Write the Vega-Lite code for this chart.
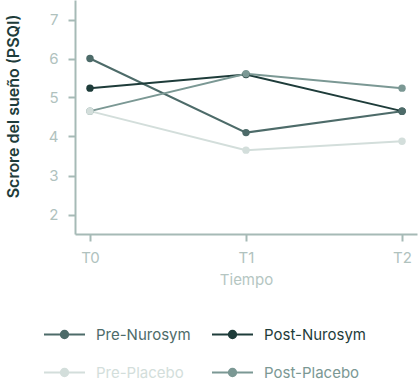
{
  "$schema": "https://vega.github.io/schema/vega-lite/v6.json",
  "width": 342,
  "height": 234,
  "autosize": "none",
  "padding": {"left": 75, "top": 0, "right": 1, "bottom": 151},
  "config": {
    "font": "Inter",
    "view": {"stroke": null},
    "axis": {"grid": false, "domainColor": "#a6bab6", "domainWidth": 2, "tickColor": "#a6bab6", "tickWidth": 2, "tickSize": 7, "labelColor": "#b0c2be", "labelFontSize": 15, "labelFont": "Inter"}
  },
  "data": {
    "values": [
      {"grupo": "Pre-Nurosym", "tiempo": "T0", "score": 6.0},
      {"grupo": "Pre-Nurosym", "tiempo": "T1", "score": 4.1},
      {"grupo": "Pre-Nurosym", "tiempo": "T2", "score": 4.65},
      {"grupo": "Post-Nurosym", "tiempo": "T0", "score": 5.24},
      {"grupo": "Post-Nurosym", "tiempo": "T1", "score": 5.59},
      {"grupo": "Post-Nurosym", "tiempo": "T2", "score": 4.65},
      {"grupo": "Pre-Placebo", "tiempo": "T0", "score": 4.65},
      {"grupo": "Pre-Placebo", "tiempo": "T1", "score": 3.65},
      {"grupo": "Pre-Placebo", "tiempo": "T2", "score": 3.88},
      {"grupo": "Post-Placebo", "tiempo": "T0", "score": 4.65},
      {"grupo": "Post-Placebo", "tiempo": "T1", "score": 5.61},
      {"grupo": "Post-Placebo", "tiempo": "T2", "score": 5.24}
    ]
  },
  "encoding": {
    "x": {"field": "tiempo", "type": "ordinal", "scale": {"type": "point", "padding": 0.096},
      "axis": {"title": "Tiempo", "labelAngle": 0, "labelPadding": 9, "titleColor": "#b5c6c2", "titleFontSize": 15, "titleFontWeight": "normal", "titlePadding": 7}},
    "y": {"field": "score", "type": "quantitative", "scale": {"domain": [1.5, 7.5], "nice": false, "zero": false},
      "axis": {"title": "Scrore del sueño (PSQI)", "values": [2, 3, 4, 5, 6, 7], "labelPadding": 10, "titleColor": "#1e3c3a", "titleFontSize": 16, "titleFontWeight": 600, "titleX": -54, "titleY": 106, "titleAnchor": "middle"}},
    "color": {"field": "grupo", "type": "nominal",
      "scale": {"domain": ["Pre-Nurosym", "Post-Nurosym", "Pre-Placebo", "Post-Placebo"], "range": ["#4d6b69", "#1e3c3a", "#d3dedb", "#7b9894"]},
      "legend": {"title": null, "orient": "none", "legendX": -32, "legendY": 313, "direction": "horizontal", "columns": 2, "gridAlign": "none", "columnPadding": 17, "rowPadding": 8,
        "symbolType": "M-1,0H1M-0.18,0a0.18,0.18 0 1,0 0.36,0a0.18,0.18 0 1,0 -0.36,0", "symbolSize": 1681, "symbolStrokeWidth": 2, "labelOffset": 10, "labelFontSize": 15, "labelFont": "Inter",
        "encode": {"labels": {"update": {"fill": {"scale": "color", "field": "value"}}}, "symbols": {"update": {"fill": {"scale": "color", "field": "value"}, "stroke": {"scale": "color", "field": "value"}, "opacity": {"value": 1}}}}}},
    "order": {"field": "grupo"}
  },
  "layer": [
    {"mark": {"type": "line", "strokeWidth": 2}},
    {"mark": {"type": "point", "filled": true, "size": 55, "opacity": 1}}
  ]
}
